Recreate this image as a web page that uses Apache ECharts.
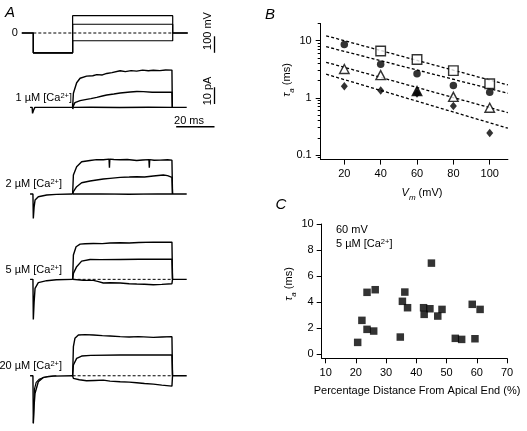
<!DOCTYPE html>
<html><head><meta charset="utf-8">
<script src="https://cdn.jsdelivr.net/npm/echarts@6/dist/echarts.min.js"></script>
<style>html,body{margin:0;padding:0;background:#fff}#c{width:527px;height:431px}</style>
</head><body><div id="c"></div>
<script>
// ---------- Panel A : voltage protocol (ms, mV) ----------
const holdStartMs = -6, stepStartMs = 20.5, stepEndMs = 72.7, sweepEndMs = 80.5;
const prepulseMV = -120;
const stepLevelsMV = [105, 53, -47];
const scaleBarMs = 20, scaleBarPA = 10, scaleBarMV = 100;

// ---------- Panel A : currents (ms, pA) ----------
const pre1 = [[-1.7,0],[-0.6,0],[-0.4,-3.6],[0.2,-1.5],[0.8,0],[20.5,0],[20.5,2.5],[20.6,-1],[20.8,0]];
const top1 = [[20.5,0],[20.9,8.4],[22.6,14.7],[24.4,17.4],[27.8,18.7],[31,18.9],[33.1,19.6],[36,19.4],[38.3,20.3],[41,20.8],[45.3,21.9],[48,21.4],[51,22.0],[53.9,21.7],[57,22.3],[60,21.9],[62.6,22.2],[66,22.0],[69,22.4],[72.3,22.3],[72.5,0]];
const mid1 = [[20.5,0],[21.7,2.8],[24.4,4.0],[27.8,4.8],[30,5.2],[33.1,6.0],[36,6.8],[38.3,7.4],[42,8.0],[45.3,8.6],[50.5,9.2],[54,9.5],[57.4,9.4],[62,9.0],[66.1,9.1],[72.3,9.0],[72.5,0]];
const bot1 = [[20.8,0],[30,0.1],[45,-0.1],[60,0.1],[72.5,0],[80,0]];

const pre2 = [[-1.7,0],[-0.2,0],[0,-14.6],[0.4,-8],[0.9,-3.6],[2.6,-1.6],[7,-0.6],[12,-0.2],[20.5,0]];
const top2 = [[20.5,0],[20.9,11.4],[22.6,16.4],[25.2,19.3],[29.6,20.1],[33,20.6],[36.5,20.5],[39.5,20.9],[39.7,15.8],[39.9,20.9],[42,20.7],[45.3,20.5],[49,20.7],[53.9,20.1],[57,20.4],[60.3,20.6],[60.5,15.8],[60.7,20.6],[63,20.2],[66.1,20.3],[70,20.5],[72.3,20.3],[72.6,0]];
const mid2 = [[20.5,0],[20.9,1.4],[22.6,4.4],[25.2,6.8],[29.6,7.8],[33,8.4],[36.5,9.0],[40,9.4],[45.3,10.0],[50,10.2],[53.9,10.4],[58,10.2],[62.6,10.8],[67.8,11.4],[70,11.0],[72.3,10.0],[72.6,0]];
const bot2 = [[20.5,0],[35,0.1],[50,-0.1],[65,0.1],[72.5,0],[80,0]];

const pre3 = [[-1.7,0],[-0.2,0],[0,-24],[0.4,-14],[0.9,-5.4],[2.6,-2.0],[7,-0.8],[12,-0.2],[20.5,0]];
const top3 = [[20.5,0],[20.9,14.6],[22.3,19.5],[24.4,21.1],[27,21.3],[31.3,21.5],[36,21.4],[40,21.8],[45.3,21.9],[50,21.8],[55,22.1],[62.6,22.3],[68,22.2],[72.3,22.3],[72.6,0]];
const mid3 = [[20.5,0],[20.9,3.6],[22.6,7.6],[25.2,10.9],[29.6,11.9],[35,11.8],[45.3,11.9],[55,12.0],[65,12.0],[72.3,12.1],[72.6,0]];
const bot3 = [[20.5,0],[20.9,-0.4],[26,-0.5],[31.3,-0.6],[34,-1.4],[36.5,-2.2],[40,-2.0],[45.3,-2.2],[50,-2.6],[53.9,-2.8],[58,-2.9],[62.6,-3.2],[67,-3.0],[72.3,-2.6],[72.6,0],[80,0]];

const pre4a = [[-1.7,0],[-0.2,0],[0,-28.5],[0.4,-18],[0.9,-10.5],[2.6,-3.6],[5.2,-1.0],[10.4,-0.2],[20.5,0]];
const pre4b = [[0,-28.5],[0.6,-8],[1.5,-4],[3,-2.2],[5,-1.2],[8,-0.3],[12,0]];
const top4 = [[20.5,0],[20.9,17.4],[21.7,22.4],[23.5,24.4],[27,24.6],[31.3,24.4],[36,24.0],[40,23.8],[45.3,23.4],[50,23.2],[55,23.4],[62.6,23.0],[67,23.2],[72.3,23.4],[72.6,0]];
const mid4 = [[20.5,0],[20.9,6.4],[22.6,10.4],[25.2,11.8],[30,12.2],[45.3,12.4],[60,12.4],[72.3,12.4],[72.6,0]];
const bot4 = [[20.5,0],[20.9,-1.6],[24,-2.4],[27.8,-3.0],[32,-2.8],[36.5,-2.6],[40,-3.2],[45.3,-3.6],[50,-3.8],[53.9,-4.2],[58,-4.6],[62.6,-5.0],[67,-5.6],[72.3,-6.2],[72.6,0],[80,0]];

const caLabels = ['1', '2', '5', '20'];

// ---------- Panel B ----------
const bVm = [20, 40, 60, 80, 100];
const tauSquare = [null, 6.6, 4.7, 3.0, 1.76];
const tauCircle = [8.6, 3.86, 2.64, 1.65, 1.25];
const tauTriangle = [3.19, 2.5, 1.32, 1.04, 0.67];
const tauDiamond = [1.59, 1.35, 1.19, 0.72, 0.243];
const fitVm = [10, 110];
const fitSquare = [12.2, 1.68];
const fitCircle = [7.85, 1.20];
const fitTriangle = [4.19, 0.55];
const fitDiamond = [2.59, 0.294];
const bXTicks = [20, 40, 60, 80, 100];
const bYMajor = [0.1, 1, 10];
const bYMinor = [0.09, 0.2, 0.3, 0.4, 0.5, 0.6, 0.7, 0.8, 0.9, 2, 3, 4, 5, 6, 7, 8, 9, 20];

// ---------- Panel C ----------
const cDist = [20.6, 22.0, 23.7, 23.7, 25.9, 26.4, 34.7, 35.4, 36.2, 37.1, 42.4, 42.6, 44.5, 45.0, 47.1, 48.5, 52.9, 55.0, 58.5, 59.4, 61.1];
const cTau  = [0.92, 2.61, 4.76, 1.92, 1.79, 4.96, 1.33, 4.07, 4.78, 3.58, 3.58, 3.07, 3.5, 7.0, 2.94, 3.45, 1.23, 1.15, 3.84, 1.2, 3.45];
const cXTicks = [10, 20, 30, 40, 50, 60, 70];
const cYTicks = [0, 2, 4, 6, 8, 10];

// ---------- build ----------
const FONT = 'Liberation Sans, Arial, sans-serif';
const chart = echarts.init(document.getElementById('c'), null, {renderer: 'canvas', width: 527, height: 431});

const aLeft = 19.9, aWidth = 199.4, aMin = -7, aMax = 97;
const grids = [
  {left: aLeft, top: 6.6, width: aWidth, height: 52.8},
  {left: aLeft, top: 53.9, width: aWidth, height: 106.9},
  {left: aLeft, top: 140.6, width: aWidth, height: 106.9},
  {left: aLeft, top: 225.9, width: aWidth, height: 106.9},
  {left: aLeft, top: 322.3, width: aWidth, height: 106.9},
  {left: 320.7, top: 23.5, width: 187.2, height: 136.1},
  {left: 321.7, top: 224, width: 185.3, height: 134.3}
];

const axisBlack = {show: true, onZero: false, lineStyle: {color: '#000', width: 1}};
const lblStyle = {color: '#000', fontSize: 11, fontFamily: FONT};

const xAxes = [];
for (let i = 0; i < 5; i++) xAxes.push({gridIndex: i, type: 'value', min: aMin, max: aMax, show: false});
xAxes.push({gridIndex: 5, type: 'value', min: 7, max: 110, axisLine: axisBlack,
  axisTick: {show: true, inside: false, length: 5, lineStyle: {color: '#000'}, customValues: bXTicks},
  axisLabel: Object.assign({margin: 9, customValues: bXTicks}, lblStyle), splitLine: {show: false}});
xAxes.push({gridIndex: 6, type: 'value', min: 8.7, max: 70, axisLine: axisBlack,
  axisTick: {show: true, inside: false, length: 5, lineStyle: {color: '#000'}, customValues: cXTicks},
  axisLabel: Object.assign({margin: 9, customValues: cXTicks}, lblStyle), splitLine: {show: false}});

const yAxes = [];
yAxes.push({gridIndex: 0, type: 'value', min: -160, max: 160, axisLine: {show: false}, axisTick: {show: false},
  splitLine: {show: false}, axisLabel: Object.assign({margin: 2, customValues: [0]}, lblStyle)});
for (let i = 1; i < 5; i++) yAxes.push({gridIndex: i, type: 'value', min: -32, max: 32, show: false});
yAxes.push({gridIndex: 5, type: 'log', logBase: 10, min: 0.083, max: 20, axisLine: axisBlack,
  axisTick: {show: true, inside: false, length: 5, lineStyle: {color: '#000'}, customValues: bYMajor},
  axisLabel: Object.assign({margin: 9, customValues: bYMajor, formatter: v => String(v)}, lblStyle),
  splitLine: {show: false}, minorTick: {show: false}});
yAxes.push({gridIndex: 6, type: 'value', min: -0.3, max: 10, axisLine: axisBlack,
  axisTick: {show: true, inside: false, length: 5, lineStyle: {color: '#000'}, customValues: cYTicks},
  axisLabel: Object.assign({margin: 8, customValues: cYTicks}, lblStyle), splitLine: {show: false}});
yAxes.push({gridIndex: 5, type: 'log', logBase: 10, min: 0.083, max: 20, position: 'left', axisLine: {show: false},
  axisTick: {show: true, inside: false, length: 3, lineStyle: {color: '#000'}, customValues: bYMinor},
  axisLabel: {show: false}, splitLine: {show: false}});

const series = [];
function line(data, g, dashed, width) {
  series.push({type: 'line', xAxisIndex: g, yAxisIndex: g, data: data, symbol: 'none', silent: true,
    animation: false, z: 2, lineStyle: {color: '#000', width: width || 1.1, type: dashed ? [3, 2] : 'solid'}});
}
// protocol
stepLevelsMV.forEach(L => line([[holdStartMs, 0], [0, 0], [0, prepulseMV], [stepStartMs, prepulseMV],
  [stepStartMs, L], [stepEndMs, L], [stepEndMs, 0], [sweepEndMs, 0]], 0, false, 1.2));
line([[0, 0], [stepEndMs, 0]], 0, true, 1);
// recordings
[[pre1, top1, mid1, bot1], [pre2, top2, mid2, bot2], [pre3, top3, mid3, bot3], [pre4a, top4, mid4, bot4]].forEach((rec, i) => {
  rec.forEach(d => line(d, i + 1, false, 1.4));
});
line(pre4b, 4, false, 1.2);
line([[stepStartMs, 0], [stepEndMs, 0]], 3, true, 1);
line([[stepStartMs, 0], [stepEndMs, 0]], 4, true, 1);
// scale bars
const barT = 94.5;
line([[barT, prepulseMV], [barT, prepulseMV + scaleBarMV]], 0, false, 1.3);
line([[barT, 2], [barT, 2 + scaleBarPA]], 1, false, 1.3);
line([[barT - scaleBarMs, -11.6], [barT, -11.6]], 1, false, 1.3);

// Panel B fits
[fitSquare, fitCircle, fitTriangle, fitDiamond].forEach(f => {
  series.push({type: 'line', xAxisIndex: 5, yAxisIndex: 5, symbol: 'none', silent: true, animation: false, z: 2,
    data: fitVm.map((x, i) => [x, f[i]]), lineStyle: {color: '#000', width: 1.3, type: [3, 2.2]}});
});
function pts(arr) { return bVm.map((x, i) => [x, arr[i]]).filter(p => p[1] != null); }
const openStyle = {color: '#fff', borderColor: '#000', borderWidth: 1.4};
series.push({type: 'scatter', xAxisIndex: 5, yAxisIndex: 5, symbol: 'diamond', symbolSize: [7, 8.5],
  data: pts(tauDiamond), itemStyle: {color: '#000'}, z: 5, animation: false});
const triData = pts(tauTriangle).map((p, i) => i === 2 ? {value: p, itemStyle: {color: '#000', borderColor: '#000'}} : p);
series.push({type: 'scatter', xAxisIndex: 5, yAxisIndex: 5, symbol: 'triangle', symbolSize: [9.5, 9],
  data: triData, itemStyle: openStyle, z: 6, animation: false});
series.push({type: 'scatter', xAxisIndex: 5, yAxisIndex: 5, symbol: 'circle', symbolSize: 7.5,
  data: pts(tauCircle), itemStyle: {color: '#000'}, z: 5, animation: false});
series.push({type: 'scatter', xAxisIndex: 5, yAxisIndex: 5, symbol: 'rect', symbolSize: 9.5,
  data: pts(tauSquare), itemStyle: openStyle, z: 6, animation: false});

// Panel C
series.push({type: 'scatter', xAxisIndex: 6, yAxisIndex: 6, symbol: 'rect', symbolSize: 7.5,
  data: cDist.map((x, i) => [x, cTau[i]]), itemStyle: {color: '#000'}, animation: false});

// text
const rich = {
  n: {fontSize: 11, fontFamily: FONT, fill: '#000', lineHeight: 13},
  i: {fontSize: 11, fontFamily: FONT, fontStyle: 'italic', fill: '#000', lineHeight: 13},
  sup: {fontSize: 7.5, fontFamily: FONT, fill: '#000', verticalAlign: 'top', lineHeight: 13},
  sub: {fontSize: 8, fontFamily: FONT, fontStyle: 'italic', fill: '#000', verticalAlign: 'bottom', lineHeight: 13, padding: [0, 0, -2, 0]}
};
function txt(text, x, y, align, rot) {
  return {type: 'text', x: x, y: y, rotation: rot || 0, silent: true,
    style: {text: text, rich: rich, fill: '#000', font: '11px ' + FONT, textAlign: align || 'center', textVerticalAlign: 'middle'}};
}
function letter(t, x, y) {
  return {type: 'text', x: x, y: y, silent: true,
    style: {text: t, fill: '#000', font: 'italic 15px ' + FONT, textAlign: 'center', textVerticalAlign: 'middle'}};
}
const caY = [98, 184, 270, 366];
const caX = [72, 62, 62, 62];
const graphic = [
  letter('A', 10, 13), letter('B', 270, 15), letter('C', 281, 205),
  txt('{n|100 mV}', 208, 31, 'center', Math.PI / 2),
  txt('{n|10 pA}', 208, 91, 'center', Math.PI / 2),
  txt('{n|20 ms}', 189, 121, 'center'),
  txt('{i|V}{sub|m}{n| (mV)}', 422, 193, 'center'),
  txt('{i|τ}{sub|a}{n| (ms)}', 287, 80, 'center', Math.PI / 2),
  txt('{i|τ}{sub|a}{n| (ms)}', 289, 284, 'center', Math.PI / 2),
  txt('{n|Percentage Distance From Apical End (%)}', 417, 391, 'center'),
  txt('{n|60 mV}', 336, 230, 'left'),
  txt('{n|5 µM [Ca}{sup|2+}{n|]}', 336, 244, 'left')
];
caLabels.forEach((c, i) => graphic.push(txt('{n|' + c + ' µM [Ca}{sup|2+}{n|]}', caX[i], caY[i], 'right')));

chart.setOption({
  animation: false,
  backgroundColor: '#fff',
  textStyle: {fontFamily: FONT},
  grid: grids, xAxis: xAxes, yAxis: yAxes, series: series, graphic: graphic
});
</script></body></html>
